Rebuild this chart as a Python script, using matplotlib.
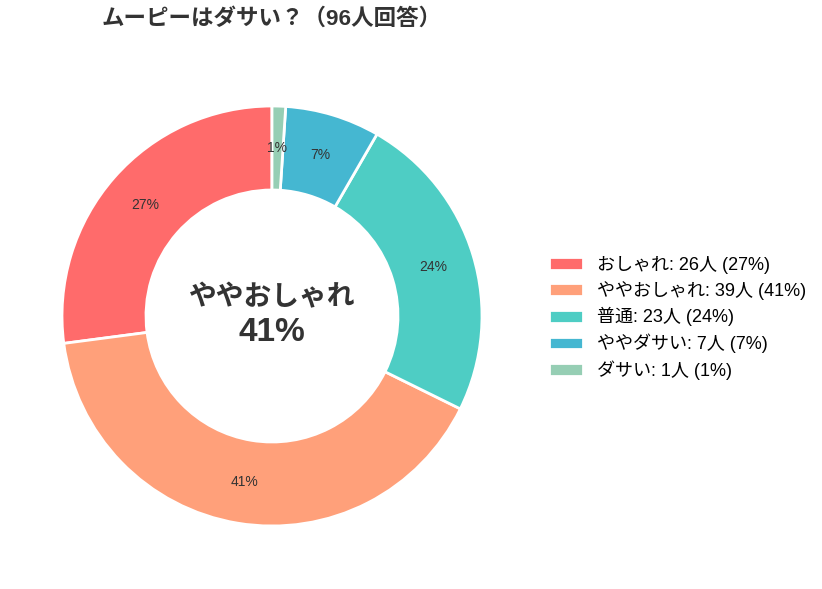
import matplotlib
matplotlib.use("Agg")
import matplotlib.pyplot as plt

# Latin glyphs from Liberation Sans, Japanese from Noto Sans CJK
plt.rcParams['font.family'] = ['Liberation Sans', 'Noto Sans CJK JP', 'DejaVu Sans']

labels = ["おしゃれ", "ややおしゃれ", "普通", "ややダサい", "ダサい"]
counts = [26, 39, 23, 7, 1]
colors = ["#FF6B6B", "#FFA07A", "#4ECDC4", "#45B7D1", "#96CEB4"]
total = sum(counts)

fig = plt.figure(figsize=(8.22, 5.89), dpi=100)
# axes sized so the pie radius lands where the reference has it
ax = fig.add_axes([9.5 / 822, 1 - 578.5 / 589, 525 / 822, 525 / 589])

wedges, texts, autotexts = ax.pie(
    counts, colors=colors, startangle=90, counterclock=True,
    autopct=lambda p: f"{p:.0f}%", pctdistance=0.8,
    wedgeprops=dict(width=0.4, edgecolor="white", linewidth=2),
    textprops=dict(fontsize=10, color="#333333"),
)
ax.set_xlim(-1.25, 1.25)
ax.set_ylim(-1.25, 1.25)
ax.set_aspect("equal")

top = counts.index(max(counts))
ax.text(0, 0.085, labels[top], ha="center", va="center", fontsize=20,
        fontweight="bold", color="#333333")
ax.text(0, -0.08, f"{counts[top] / total * 100:.0f}%", ha="center", va="center",
        fontsize=24, fontweight="bold", color="#333333")

fig.text(272 / 822, 1 - 19 / 589, f"ムーピーはダサい？（{total}人回答）",
         ha="center", va="center", fontsize=16.2, fontweight="bold", color="#333333")

legend_labels = [f"{l}: {c}人 ({c / total * 100:.0f}%)" for l, c in zip(labels, counts)]
fig.legend(wedges, legend_labels, loc="center left",
           bbox_to_anchor=(533 / 822, 1 - 318 / 589), frameon=False,
           fontsize=13, handlelength=1.85, handleheight=0.7,
           handletextpad=0.8, labelspacing=0.4)

fig.savefig("out.png", dpi=100)
